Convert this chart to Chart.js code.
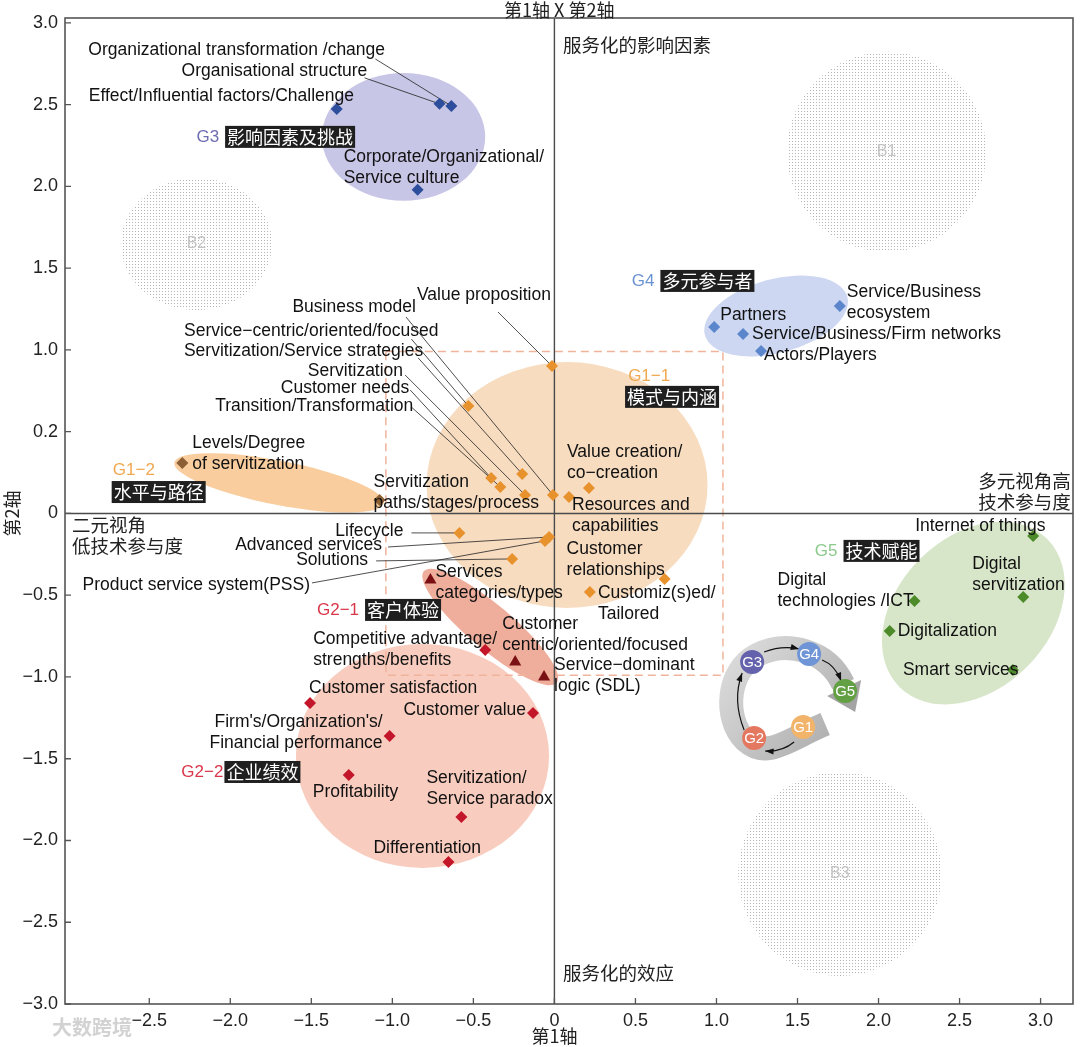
<!DOCTYPE html>
<html>
<head>
<meta charset="utf-8">
<script src="https://cdn.jsdelivr.net/npm/chart.js@4.4.1/dist/chart.umd.min.js"></script>
<style>
  html, body { margin: 0; padding: 0; background: #fff; }
  #wrap { width: 1080px; height: 1047px; position: relative; }
</style>
</head>
<body>
<div id="wrap"><canvas id="c"></canvas></div>
<script>
// ---- axis ticks ----
const xTicks = [-2.5, -2, -1.5, -1, -0.5, 0, 0.5, 1, 1.5, 2, 2.5, 3];
const yTicks = [-3, -2.5, -2, -1.5, -1, -0.5, 0, 0.5, 1, 1.5, 2, 2.5, 3];
const yTickText = ['−3.0','−2.5','−2.0','−1.5','−1.0','−0.5','0','0.2','1.0','1.5','2.0','2.5','3.0'];

// ---- G3 影响因素及挑战 ----
const g3Names = ['Organizational transformation /change', 'Organisational structure',
  'Effect/Influential factors/Challenge', 'Corporate/Organizational/\nService culture'];
const g3X = [-0.636, -0.709, -1.343, -0.844];
const g3Y = [2.492, 2.505, 2.474, 1.979];

// ---- G4 多元参与者 ----
const g4Names = ['Partners', 'Service/Business/Firm networks', 'Actors/Players', 'Service/Business\necosystem'];
const g4X = [0.986, 1.164, 1.275, 1.761];
const g4Y = [1.141, 1.098, 0.994, 1.269];

// ---- G1-1 模式与内涵 ----
const g11Names = ['Value proposition', 'Business model', 'Service−centric/oriented/focused',
  'Servitization/Service strategies', 'Servitization', 'Customer needs', 'Transition/Transformation',
  'Value creation/\nco−creation', 'Resources and\ncapabilities', 'Customer\nrelationships',
  'Customiz(s)ed/\nTailored', 'Lifecycle', 'Advanced services', 'Solutions', 'Product service system(PSS)'];
const g11X = [-0.015, -0.009, -0.531, -0.199, -0.181, -0.390, -0.334, 0.213, 0.090, 0.680, 0.219, -0.586, -0.033, -0.261, -0.058];
const g11Y = [0.902, 0.113, 0.657, 0.242, 0.113, 0.217, 0.162, 0.156, 0.101, -0.401, -0.480, -0.119, -0.144, -0.278, -0.168];

// ---- G1-2 水平与路径 ----
const g12Names = ['Levels/Degree\nof servitization', 'Servitization\npaths/stages/process'];
const g12X = [-2.296, -1.079];
const g12Y = [0.309, 0.083];

// ---- G2-1 客户体验 ----
const g21Names = ['Services\ncategories/types', 'Customer\ncentric/oriented/focused', 'Service−dominant\nlogic (SDL)'];
const g21X = [-0.765, -0.242, -0.064];
const g21Y = [-0.407, -0.908, -1.000];

// ---- G2-2 企业绩效 ----
const g22Names = ['Competitive advantage/\nstrengths/benefits', 'Customer satisfaction', 'Customer value',
  "Firm's/Organization's/\nFinancial performance", 'Profitability', 'Servitization/\nService paradox', 'Differentiation'];
const g22X = [-0.427, -1.508, -0.132, -1.017, -1.269, -0.574, -0.654];
const g22Y = [-0.835, -1.159, -1.220, -1.361, -1.599, -1.856, -2.131];

// ---- G5 技术赋能 ----
const g5Names = ['Internet of things', 'Digital\nservitization', 'Digital\ntechnologies /ICT', 'Digitalization', 'Smart services'];
const g5X = [2.954, 2.893, 2.222, 2.069, 2.829];
const g5Y = [-0.138, -0.511, -0.535, -0.719, -0.957];

// label placement: [dx, dy, align, leaderDx, leaderDy] in px from the point
const g3Place = [[-363,-56,'l',-76,-47], [-258,-33,'l',-75,-26], [-248,-13,'l'], [-74,-33,'l']];
const g4Place = [[6,-12,'l'], [9,0,'l'], [3,4,'l'], [7,-14,'l']];
const g11Place = [[-135,-71,'l',-54,-54], [-137,-188,'r',-147,-178], [-30,-75,'r',-57,-67],
  [-99,-123,'r',-104,-116], [-122,-124,'r',-120,-120], [-82,-90,'r',-81,-88], [-87,-81,'r',-89,-80],
  [-22,-36,'l'], [3,8,'l'], [-98,-30,'l'], [8,1,'l'],
  [-56,-2,'r',-48,0], [-167,8,'r',-161,10], [-144,1,'r',-136,2], [-235,44,'r',-233,42]];
const g12Place = [[10,-20,'l'], [-6,-18,'l']];
const g21Place = [[5,-8,'l'], [-13,-38,'l'], [10,-12,'l']];
const g22Place = [[-172,-11,'l'], [-1,-15,'l'], [-7,-3,'r'], [-7,-14,'r'], [-36,17,'l'], [-35,-39,'l'], [-75,-14,'l']];
const g5Place = [[-118,-10,'l'], [-51,-33,'l'], [-137,-21,'l'], [8,0,'l'], [-110,0,'l']];

// group areas: [cx, cy, rx, ry, rotationDeg, fill]
const areas = [
  [-0.931, 2.303, 0.504, 0.391, 0, '#c8c6e6'],
  [1.368, 1.208, 0.455, 0.226, -15, '#cdd7f1'],
  [0.078, 0.174, 0.867, 0.752, 0, '#f7dcc0'],
  [-1.699, 0.187, 0.658, 0.135, 11, '#f9cd9e'],
  [-0.814, -1.483, 0.781, 0.685, 0, '#f8cdbf'],
  [-0.396, -0.694, 0.535, 0.135, 40, '#efae9c'],
  [2.585, -0.609, 0.645, 0.465, -45, '#d7e6c9']
];
const blobs = [['B1', 2.050, 2.211, 0.615, 0.612], ['B2', -2.209, 1.648, 0.467, 0.404], ['B3', 1.761, -2.205, 0.627, 0.624]];
const tags = [
  ['G3', '影响因素及挑战', -2.209, 2.303, '#6d6cb0', 'inline'],
  ['G4', '多元参与者', 0.477, 1.422, '#6a93d4', 'inline'],
  ['G1−1', '模式与内涵', 0.455, 0.841, '#f0a850', 'below', 0.436, 0.713],
  ['G1−2', '水平与路径', -2.725, 0.266, '#f0a850', 'below', -2.732, 0.131],
  ['G2−1', '客户体验', -1.465, -0.590, '#d9364a', 'inline'],
  ['G2−2', '企业绩效', -2.302, -1.581, '#d9364a', 'tight'],
  ['G5', '技术赋能', 1.607, -0.229, '#8cc98c', 'inline']
];
const quadText = [
  ['服务化的影响因素', 0.053, 2.868, 'left'],
  ['二元视角\n低技术参与度', -2.977, -0.070, 'left'],
  ['多元视角高\n技术参与度', 3.186, 0.199, 'right'],
  ['服务化的效应', 0.053, -2.810, 'left']
];
const cycleAnchor = [1.436, -1.141];

const LAT = '"Liberation Sans", Arial, sans-serif';
const CJK = '"Noto Sans CJK SC", "Liberation Sans", sans-serif';
const LINE_H = 21.5;

function pts(xs, ys) { return xs.map((x, i) => ({ x, y: ys[i] })); }

const groups = [
  { names: g3Names, data: pts(g3X, g3Y), place: g3Place, color: '#2c4e9c', style: 'rectRot' },
  { names: g4Names, data: pts(g4X, g4Y), place: g4Place, color: '#5b86cc', style: 'rectRot' },
  { names: g11Names, data: pts(g11X, g11Y), place: g11Place, color: '#e8922e', style: 'rectRot' },
  { names: g12Names, data: pts(g12X, g12Y), place: g12Place, color: '#8b5e34', style: 'rectRot' },
  { names: g21Names, data: pts(g21X, g21Y), place: g21Place, color: '#7a0f14', style: 'triangle' },
  { names: g22Names, data: pts(g22X, g22Y), place: g22Place, color: '#c4162a', style: 'rectRot' },
  { names: g5Names, data: pts(g5X, g5Y), place: g5Place, color: '#4d8a2a', style: 'rectRot' }
];

// light dot texture for the B areas
const dotTile = (() => {
  const c = document.createElement('canvas'); c.width = 3; c.height = 3;
  const g = c.getContext('2d'); g.fillStyle = '#b4b4b4'; g.fillRect(0, 0, 1, 1);
  return c;
})();

function text(ctx, s, x, y, align, font, color) {
  ctx.font = font; ctx.fillStyle = color;
  ctx.textAlign = align; ctx.textBaseline = 'middle';
  s.split('\n').forEach((t, i) => ctx.fillText(t, x, y + i * LINE_H));
}

function darkBox(ctx, s, x, y) {
  ctx.font = '18px ' + CJK;
  const w = ctx.measureText(s).width;
  ctx.fillStyle = '#1f1f1f';
  ctx.fillRect(x, y - 11, w + 4, 22);
  text(ctx, s, x + 2, y, 'left', '18px ' + CJK, '#ffffff');
}

function arrowTo(ctx, x0, y0, cx, cy, x1, y1) {
  ctx.beginPath(); ctx.moveTo(x0, y0); ctx.quadraticCurveTo(cx, cy, x1, y1); ctx.stroke();
  const a = Math.atan2(y1 - cy, x1 - cx);
  ctx.beginPath();
  ctx.moveTo(x1, y1);
  ctx.lineTo(x1 - 9 * Math.cos(a - 0.35), y1 - 9 * Math.sin(a - 0.35));
  ctx.lineTo(x1 - 9 * Math.cos(a + 0.35), y1 - 9 * Math.sin(a + 0.35));
  ctx.closePath(); ctx.fill();
}

function drawCycle(ctx, ox, oy) {
  ctx.save();
  ctx.translate(ox, oy);
  const grad = ctx.createLinearGradient(-60, -50, 60, 50);
  grad.addColorStop(0, '#dcdcdc'); grad.addColorStop(0.5, '#c4c4c4'); grad.addColorStop(1, '#a9a9a9');
  ctx.strokeStyle = grad; ctx.lineWidth = 24; ctx.lineCap = 'butt';
  ctx.beginPath();
  ctx.moveTo(38, 24);
  ctx.bezierCurveTo(0, 40, -20, 60, -42, 40);
  ctx.bezierCurveTo(-64, 18, -60, -30, -30, -45);
  ctx.bezierCurveTo(0, -60, 40, -50, 56, -16);
  ctx.stroke();
  ctx.fillStyle = '#a4a4a4';
  ctx.beginPath();
  ctx.moveTo(74, -20); ctx.lineTo(68, 12); ctx.lineTo(40, -4); ctx.closePath(); ctx.fill();
  ctx.strokeStyle = '#111'; ctx.fillStyle = '#111'; ctx.lineWidth = 1.2;
  arrowTo(ctx, 7, 42, -5, 52, -22, 51);
  arrowTo(ctx, -43, 30, -55, 0, -45, -27);
  arrowTo(ctx, -23, -48, -5, -55, 12, -51);
  arrowTo(ctx, 35, -40, 48, -35, 54, -19);
  const circ = [['G3', -35, -38, '#6462ac'], ['G4', 22, -46, '#6f95d6'], ['G5', 58, -9, '#63a044'],
    ['G1', 16, 27, '#f2b36a'], ['G2', -33, 38, '#e4775f']];
  circ.forEach(([t, x, y, c]) => {
    ctx.fillStyle = c; ctx.beginPath(); ctx.arc(x, y, 12, 0, Math.PI * 2); ctx.fill();
    text(ctx, t, x, y + 1, 'center', '15px ' + LAT, '#ffffff');
  });
  ctx.restore();
}

const decor = {
  id: 'decor',
  beforeDatasetsDraw(chart) {
    const ctx = chart.ctx, xs = chart.scales.x, ys = chart.scales.y, a = chart.chartArea;
    const ux = xs.getPixelForValue(1) - xs.getPixelForValue(0);
    const uy = ys.getPixelForValue(0) - ys.getPixelForValue(1);
    ctx.save();
    ctx.beginPath(); ctx.rect(a.left, a.top, a.right - a.left, a.bottom - a.top); ctx.clip();
    // dotted blobs
    const pat = ctx.createPattern(dotTile, 'repeat');
    blobs.forEach(([name, cx, cy, rx, ry]) => {
      const X = xs.getPixelForValue(cx), Y = ys.getPixelForValue(cy);
      ctx.fillStyle = pat; ctx.beginPath(); ctx.ellipse(X, Y, rx * ux, ry * uy, 0, 0, Math.PI * 2); ctx.fill();
      text(ctx, name, X, Y, 'center', '16px ' + LAT, '#c4c4c4');
    });
    // group areas
    areas.forEach(([cx, cy, rx, ry, rot, fill]) => {
      ctx.fillStyle = fill; ctx.beginPath();
      ctx.ellipse(xs.getPixelForValue(cx), ys.getPixelForValue(cy), rx * ux, ry * uy, rot * Math.PI / 180, 0, Math.PI * 2);
      ctx.fill();
    });
    // dashed frame of G1-1
    ctx.strokeStyle = '#f0b49c'; ctx.lineWidth = 1.5; ctx.setLineDash([8, 5]);
    const l = xs.getPixelForValue(-1.04), r = xs.getPixelForValue(1.04);
    const t = ys.getPixelForValue(0.99), b = ys.getPixelForValue(-0.99);
    ctx.strokeRect(l, t, r - l, b - t);
    ctx.setLineDash([]);
    // quadrant cross
    ctx.strokeStyle = '#4a4a4a'; ctx.lineWidth = 1.4;
    const x0 = xs.getPixelForValue(0), y0 = ys.getPixelForValue(0);
    ctx.beginPath(); ctx.moveTo(x0, a.top); ctx.lineTo(x0, a.bottom);
    ctx.moveTo(a.left, y0); ctx.lineTo(a.right, y0); ctx.stroke();
    // leader lines
    ctx.strokeStyle = '#222'; ctx.lineWidth = 0.8;
    groups.forEach(g => g.data.forEach((p, i) => {
      const pl = g.place[i];
      if (pl.length < 5) return;
      const X = xs.getPixelForValue(p.x), Y = ys.getPixelForValue(p.y);
      ctx.beginPath(); ctx.moveTo(X + pl[3], Y + pl[4]); ctx.lineTo(X, Y); ctx.stroke();
    }));
    ctx.restore();
  },
  afterDatasetsDraw(chart) {
    const ctx = chart.ctx, xs = chart.scales.x, ys = chart.scales.y;
    ctx.save();
    groups.forEach(g => g.data.forEach((p, i) => {
      const pl = g.place[i];
      const X = xs.getPixelForValue(p.x), Y = ys.getPixelForValue(p.y);
      text(ctx, g.names[i], X + pl[0], Y + pl[1], pl[2] === 'r' ? 'right' : 'left', '17.5px ' + LAT, '#111');
    }));
    tags.forEach(([tag, label, x, y, color, mode, bx, by]) => {
      const X = xs.getPixelForValue(x), Y = ys.getPixelForValue(y);
      text(ctx, tag, X, Y, 'left', '17px ' + LAT, color);
      ctx.font = '17px ' + LAT;
      const w = ctx.measureText(tag).width;
      if (mode === 'below') darkBox(ctx, label, xs.getPixelForValue(bx), ys.getPixelForValue(by));
      else darkBox(ctx, label, X + w + (mode === 'tight' ? 1 : 6), Y);
    });
    quadText.forEach(([s, x, y, al]) => text(ctx, s, xs.getPixelForValue(x), ys.getPixelForValue(y), al, '18.5px ' + CJK, '#222'));
    drawCycle(ctx, xs.getPixelForValue(cycleAnchor[0]), ys.getPixelForValue(cycleAnchor[1]));
    ctx.restore();
  },
  afterDraw(chart) {
    const ctx = chart.ctx, xs = chart.scales.x, ys = chart.scales.y, a = chart.chartArea;
    ctx.save();
    ctx.strokeStyle = '#555'; ctx.lineWidth = 1.6;
    ctx.strokeRect(a.left, a.top, a.right - a.left, a.bottom - a.top);
    ctx.lineWidth = 1.3;
    ctx.beginPath();
    xTicks.forEach(v => { const X = xs.getPixelForValue(v); ctx.moveTo(X, a.bottom); ctx.lineTo(X, a.bottom - 6); });
    yTicks.forEach(v => { const Y = ys.getPixelForValue(v); ctx.moveTo(a.left, Y); ctx.lineTo(a.left + 6, Y); });
    ctx.stroke();
    text(ctx, '第1轴 X 第2轴', xs.getPixelForValue(0.03), 10, 'center', '18px ' + CJK, '#222');
    text(ctx, '第1轴', xs.getPixelForValue(0), 1036, 'center', '18px ' + CJK, '#222');
    ctx.translate(12, ys.getPixelForValue(0)); ctx.rotate(-Math.PI / 2);
    text(ctx, '第2轴', 0, 0, 'center', '18px ' + CJK, '#222');
    ctx.restore();
    ctx.save();
    ctx.font = 'bold 20px ' + CJK; ctx.textBaseline = 'middle'; ctx.textAlign = 'left';
    ctx.lineWidth = 3; ctx.strokeStyle = '#ffffff'; ctx.strokeText('大数跨境', 52, 1027);
    ctx.fillStyle = '#d2d2d2'; ctx.fillText('大数跨境', 52, 1027);
    ctx.restore();
  }
};

new Chart(document.getElementById('c'), {
  type: 'scatter',
  data: {
    datasets: groups.map(g => ({
      data: g.data,
      pointStyle: g.style,
      pointRadius: g.style === 'triangle' ? 7 : 6,
      pointHoverRadius: g.style === 'triangle' ? 7 : 6,
      pointBackgroundColor: g.color,
      pointBorderColor: g.color,
      pointBorderWidth: 0
    }))
  },
  options: {
    responsive: true,
    maintainAspectRatio: false,
    animation: false,
    layout: { padding: { top: 18, right: 3, left: 0, bottom: 0 } },
    plugins: { legend: { display: false }, tooltip: { enabled: false } },
    scales: {
      x: {
        type: 'linear', min: -3.02, max: 3.2,
        grid: { display: false, drawTicks: false },
        border: { display: false },
        afterBuildTicks: s => { s.ticks = xTicks.map(v => ({ value: v })); },
        afterFit: s => { s.height = 43; },
        ticks: {
          padding: 6, color: '#222', font: { size: 18, family: LAT },
          callback: v => v === 0 ? '0' : (v < 0 ? '−' : '') + Math.abs(v).toFixed(1)
        }
      },
      y: {
        type: 'linear', min: -3.0, max: 3.03,
        grid: { display: false, drawTicks: false },
        border: { display: false },
        afterBuildTicks: s => { s.ticks = yTicks.map(v => ({ value: v })); },
        afterFit: s => { s.width = 65; },
        ticks: {
          padding: 7, color: '#222', font: { size: 18, family: LAT },
          callback: v => yTickText[yTicks.indexOf(v)]
        }
      }
    }
  },
  plugins: [decor]
});
</script>
</body>
</html>
